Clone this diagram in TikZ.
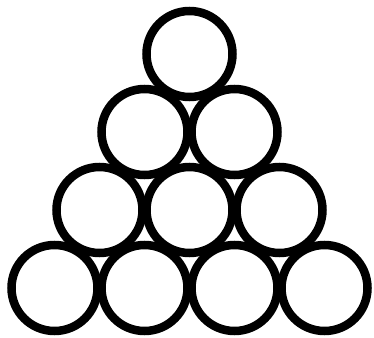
\documentclass[tikz,border=0pt]{standalone}
\begin{document}
\begin{tikzpicture}[x=1pt,y=-1pt,ball/.style={draw=black,line width=8.5pt,circle,minimum size=86pt,inner sep=0pt}]
\useasboundingbox (0,0) rectangle (374,337);
\node[ball] (a) at (189.5,54) {};
\node[ball] (b1) at (144.5,132) {};
\node[ball] (b2) at (234.5,132) {};
\node[ball] (c1) at (99.5,210) {};
\node[ball] (c2) at (189.5,210) {};
\node[ball] (c3) at (279.5,210) {};
\node[ball] (d1) at (54.5,288) {};
\node[ball] (d2) at (144.5,288) {};
\node[ball] (d3) at (234.5,288) {};
\node[ball] (d4) at (324.5,288) {};
\end{tikzpicture}
\end{document}
